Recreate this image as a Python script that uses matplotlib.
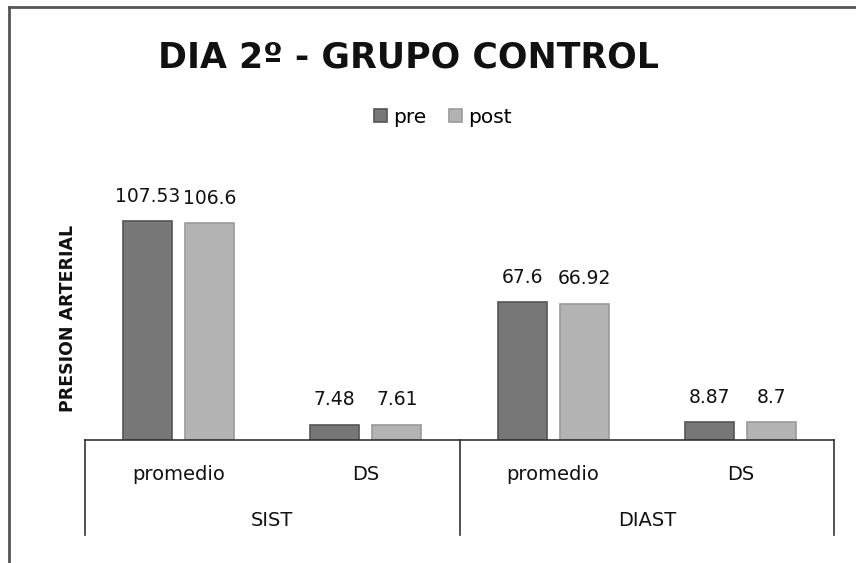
import matplotlib
matplotlib.use("Agg")
import matplotlib.pyplot as plt
from matplotlib.lines import Line2D
import numpy as np

categories = ["promedio", "DS", "promedio", "DS"]
groups = ["SIST", "DIAST"]
series_names = ["pre", "post"]
pre = [107.53, 7.48, 67.6, 8.87]
post = [106.6, 7.61, 66.92, 8.7]
pre_labels = ["107.53", "7.48", "67.6", "8.87"]
post_labels = ["106.6", "7.61", "66.92", "8.7"]

W, H = 856, 563
fig = plt.figure(figsize=(W / 100, H / 100), dpi=100)
plt.rcParams['font.family'] = ['DejaVu Sans']

def fx(px):
    return px / W

def fy(py):
    return 1 - py / H

# outer frame
fig.add_artist(Line2D([fx(9), fx(9)], [fy(7), 0], color="#555555", lw=2, transform=fig.transFigure))
fig.add_artist(Line2D([fx(9), 1], [fy(7), fy(7)], color="#555555", lw=2, transform=fig.transFigure))

ax_left, ax_right = 85, 834
ax_bottom = 440
ymax = 120
scale = 107.53 / (440 - 221)
ax_top = ax_bottom - ymax / scale
ax = fig.add_axes([fx(ax_left), fy(ax_bottom), fx(ax_right - ax_left), (ax_bottom - ax_top) / H])

x = np.arange(len(categories))
bw = 0.262
off = 0.166
b1 = ax.bar(x - off, pre, bw, color="#777777", edgecolor="#555555", linewidth=1.2, label=series_names[0])
b2 = ax.bar(x + off, post, bw, color="#b3b3b3", edgecolor="#9a9a9a", linewidth=1.2, label=series_names[1])
for xi, v, t in zip(x - off, pre, pre_labels):
    ax.annotate(t, (xi, v), xytext=(0, 11), textcoords="offset points", ha="center", va="bottom", fontsize=13.5, color="#111111")
for xi, v, t in zip(x + off, post, post_labels):
    ax.annotate(t, (xi, v), xytext=(0, 11), textcoords="offset points", ha="center", va="bottom", fontsize=13.5, color="#111111")

ax.set_xlim(-0.5, 3.5)
ax.set_ylim(0, ymax)
for s in ["top", "right", "left"]:
    ax.spines[s].set_visible(False)
ax.spines["bottom"].set_color("#333333")
ax.spines["bottom"].set_linewidth(1.2)
ax.set_yticks([])
ax.set_xticks([])

# category labels
trans = ax.get_xaxis_transform()
y_cat = -(475 - ax_bottom) / (ax_bottom - ax_top)
y_grp = -(520 - ax_bottom) / (ax_bottom - ax_top)
y_end = -(535 - ax_bottom) / (ax_bottom - ax_top)
for xi, c in zip(x, categories):
    ax.text(xi, y_cat, c, transform=trans, ha="center", va="center", fontsize=14, color="#111111")
for gi, g in enumerate(groups):
    ax.text(gi * 2 + 0.5, y_grp, g, transform=trans, ha="center", va="center", fontsize=14, color="#111111")
for xv in [-0.5, 1.5, 3.5]:
    ax.add_line(Line2D([xv, xv], [0, y_end], transform=trans, color="#333333", lw=1.2, clip_on=False))

# title
fig.text(fx(408), fy(58), "DIA 2º - GRUPO CONTROL", ha="center", va="center", fontsize=25, fontweight="bold", color="#111111")
# y label
fig.text(fx(68), fy(318), "PRESION ARTERIAL", ha="center", va="center", rotation=90, fontsize=12.5, fontweight="bold", color="#111111")

# legend
ax.legend(handles=[b1, b2], loc="center", bbox_to_anchor=(fx(443), fy(117)), bbox_transform=fig.transFigure,
          ncol=2, frameon=False, fontsize=14.5, handlelength=0.65, handleheight=0.65, handletextpad=0.3, columnspacing=1.1)

fig.savefig("out.png", dpi=100)
